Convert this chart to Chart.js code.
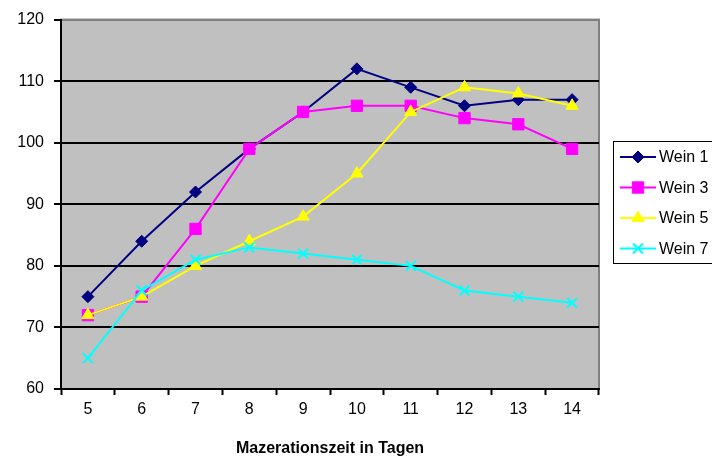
<!DOCTYPE html>
<html>
<head>
<meta charset="utf-8">
<script src="https://cdn.jsdelivr.net/npm/chart.js@4"></script>
<style>
  html, body { margin: 0; padding: 0; background: #ffffff; }
  #wrap { width: 712px; height: 458px; position: relative; }
</style>
</head>
<body>
<div id="wrap"><canvas id="c" width="712" height="458"></canvas></div>
<script>
// Maceration days
const tage = ['5', '6', '7', '8', '9', '10', '11', '12', '13', '14'];

// Measured values per wine
const wein1 = [75, 84, 92, 99, 105, 112, 109, 106, 107, 107];
const wein3 = [72, 75, 86, 99, 105, 106, 106, 104, 103, 99];
const wein5 = [72, 75, 80, 84, 88, 95, 105, 109, 108, 106];
const wein7 = [65, 76, 81, 83, 82, 81, 80, 76, 75, 74];

const yMin = 60, yMax = 120, yStep = 10;
const FONT = 'Liberation Sans, Arial, sans-serif';

function serie(label, data, color, style, radius, order) {
  return {
    label, data, order,
    borderColor: color,
    backgroundColor: color,
    borderWidth: 2,
    pointStyle: style,
    pointRadius: radius,
    pointHoverRadius: radius,
    pointBorderColor: color,
    pointBackgroundColor: color,
    pointBorderWidth: style === 'crossRot' ? 2 : 1,
    tension: 0
  };
}

// Grey plot area with a thin frame
const plotBackground = {
  id: 'plotBackground',
  beforeDraw(chart) {
    const { ctx, chartArea: a } = chart;
    ctx.save();
    ctx.fillStyle = '#c0c0c0';
    ctx.fillRect(a.left, a.top, a.right - a.left, a.bottom - a.top);
    ctx.strokeStyle = '#808080';
    ctx.lineWidth = 2;
    ctx.strokeRect(a.left, a.top, a.right - a.left, a.bottom - a.top);
    ctx.restore();
  }
};

// Legend box with line + marker samples
const lineLegend = {
  id: 'lineLegend',
  afterDraw(chart) {
    const { ctx } = chart;
    const x0 = 613, y0 = 141, w = 110, h = 122;
    ctx.save();
    ctx.fillStyle = '#ffffff';
    ctx.fillRect(x0, y0, w, h);
    ctx.strokeStyle = '#000000';
    ctx.lineWidth = 1;
    ctx.strokeRect(x0 + 0.5, y0 + 0.5, w, h);
    chart.data.datasets.forEach((ds, i) => {
      const y = 157 + i * 30.5;
      ctx.strokeStyle = ds.borderColor;
      ctx.lineWidth = 2;
      ctx.beginPath();
      ctx.moveTo(620, y);
      ctx.lineTo(656, y);
      ctx.stroke();
      ctx.fillStyle = ds.pointBackgroundColor;
      ctx.strokeStyle = ds.pointBorderColor;
      ctx.lineWidth = ds.pointBorderWidth;
      Chart.helpers.drawPoint(ctx, { pointStyle: ds.pointStyle, radius: ds.pointRadius, rotation: 0, borderWidth: ds.pointBorderWidth }, 638, y);
      ctx.fillStyle = '#000000';
      ctx.font = '16px ' + FONT;
      ctx.textBaseline = 'middle';
      ctx.textAlign = 'left';
      ctx.fillText(ds.label, 659, y + 1);
    });
    ctx.restore();
  }
};

new Chart(document.getElementById('c'), {
  type: 'line',
  data: {
    labels: tage,
    datasets: [
      serie('Wein 1', wein1, '#000080', 'rectRot', 6, 4),
      serie('Wein 3', wein3, '#ff00ff', 'rect', 8, 3),
      serie('Wein 5', wein5, '#ffff00', 'triangle', 7, 2),
      serie('Wein 7', wein7, '#00ffff', 'crossRot', 7, 1)
    ]
  },
  options: {
    responsive: false,
    animation: false,
    layout: { padding: { top: 19, right: 113, bottom: 0, left: 0 } },
    plugins: {
      legend: { display: false },
      tooltip: { enabled: false }
    },
    scales: {
      x: {
        type: 'category',
        offset: true,
        grid: {
          offset: true,
          drawOnChartArea: false,
          drawTicks: true,
          tickLength: 6,
          tickColor: '#000000',
          tickWidth: 2
        },
        border: { display: true, color: '#000000', width: 2 },
        ticks: {
          color: '#000000',
          font: { family: FONT, size: 16 },
          padding: 5,
          maxRotation: 0
        },
        title: {
          display: true,
          text: 'Mazerationszeit in Tagen',
          color: '#000000',
          font: { family: FONT, size: 16, weight: 'bold' },
          padding: { top: 14, bottom: 0 }
        },
        afterFit(scale) { scale.height = 69; }
      },
      y: {
        min: yMin,
        max: yMax,
        ticks: {
          stepSize: yStep,
          color: '#000000',
          font: { family: FONT, size: 16 },
          padding: 10
        },
        grid: {
          color: (c) => (c.tick && c.tick.value === yMax) ? '#808080' : '#000000',
          lineWidth: 2,
          tickLength: 7,
          tickColor: '#000000',
          tickWidth: 2
        },
        border: { display: true, color: '#000000', width: 2 },
        afterFit(scale) { scale.width = 61; }
      }
    }
  },
  plugins: [plotBackground, lineLegend]
});
</script>
</body>
</html>
